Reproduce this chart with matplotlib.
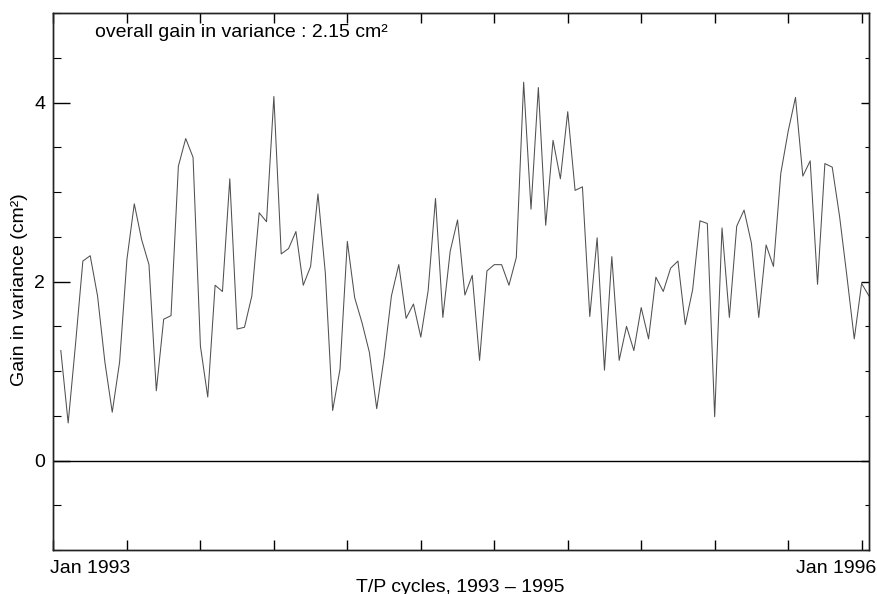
import numpy as np
import matplotlib
matplotlib.use('Agg')
from matplotlib import pyplot as plt
from matplotlib.ticker import MultipleLocator

# T/P repeat cycles covered (Jan 1993 - Jan 1996)
cycles = list(range(11, 122))

# gain in variance per cycle (cm^2)
gain = [
    1.23, 0.42, 1.30, 2.23, 2.29, 1.84, 1.10, 0.54, 1.10, 2.25,
    2.87, 2.47, 2.19, 0.78, 1.58, 1.62, 3.29, 3.60, 3.39, 1.28,
    0.71, 1.96, 1.89, 3.15, 1.47, 1.49, 1.84, 2.77, 2.67, 4.07,
    2.31, 2.37, 2.56, 1.96, 2.17, 2.98, 2.10, 0.56, 1.02, 2.45,
    1.82, 1.54, 1.21, 0.58, 1.15, 1.84, 2.19, 1.59, 1.75, 1.38,
    1.90, 2.93, 1.60, 2.34, 2.69, 1.85, 2.07, 1.12, 2.12, 2.19,
    2.19, 1.96, 2.27, 4.23, 2.81, 4.17, 2.63, 3.58, 3.15, 3.90,
    3.02, 3.06, 1.61, 2.49, 1.01, 2.28, 1.12, 1.50, 1.23, 1.71,
    1.36, 2.05, 1.89, 2.15, 2.23, 1.52, 1.91, 2.68, 2.65, 0.49,
    2.60, 1.60, 2.62, 2.80, 2.43, 1.60, 2.41, 2.17, 3.21, 3.68,
    4.06, 3.18, 3.35, 1.97, 3.32, 3.28, 2.73, 2.06, 1.36, 1.98,
    1.84,
]

date_labels = ['Jan 1993', 'Jan 1996']
date_label_cycles = [15, 116.5]
overall_gain = 2.15

plt.rcParams['font.family'] = ['Liberation Sans', 'DejaVu Sans']
plt.rcParams['font.size'] = 14


def main():
    fig = plt.figure(figsize=(8.78, 5.94), dpi=100)
    ax = fig.add_axes([0.0609, 0.0741, 0.9288, 0.9035])

    ax.plot(cycles, gain, color='#505050', lw=0.75)
    ax.axhline(0, color='black', lw=1.0)

    ax.set_xlim(10, 121)
    ax.set_ylim(-1, 5)

    # x ticks every 10 cycles, unlabeled, on top and bottom
    ax.xaxis.set_major_locator(MultipleLocator(10))
    ax.tick_params(axis='x', which='major', direction='in', length=7.2,
                   width=1.0, top=True, bottom=True, labelbottom=False)
    ax.tick_params(axis='x', which='minor', bottom=False, top=False)

    ax.yaxis.set_major_locator(MultipleLocator(2))
    ax.yaxis.set_minor_locator(MultipleLocator(0.5))
    ax.tick_params(axis='y', which='major', direction='in', length=12,
                   width=1.0, left=True, right=False, labelsize=14, pad=6)
    ax.tick_params(axis='y', which='minor', direction='in', length=5.8,
                   width=0.8, left=True, right=False)

    # shorter ticks along the right side
    axr = ax.twinx()
    axr.set_ylim(-1, 5)
    axr.yaxis.set_major_locator(MultipleLocator(2))
    axr.yaxis.set_minor_locator(MultipleLocator(0.5))
    axr.tick_params(axis='y', which='major', direction='in', length=5.5,
                    width=1.0, labelright=False)
    axr.tick_params(axis='y', which='minor', direction='in', length=3,
                    width=0.8)

    for a in (ax, axr):
        for sp in a.spines.values():
            sp.set_linewidth(1.0)
            sp.set_color('#222222')

    for lab, c in zip(date_labels, date_label_cycles):
        ax.annotate(lab, xy=(c, 0), xycoords=('data', 'axes fraction'),
                    xytext=(0, -16.3), textcoords='offset points',
                    ha='center', va='baseline', fontsize=14)

    fig.text(460.5 / 878, 2.5 / 594, 'T/P cycles, 1993 \u2013 1995',
             ha='center', va='baseline', fontsize=14)
    fig.text(20 / 878, 1 - 290 / 594, 'Gain in variance (cm\u00b2)',
             rotation=90, ha='center', va='center', fontsize=14)

    ax.text(95 / 878, 1 - 36.7 / 594,
            f'overall gain in variance : {overall_gain:.2f} cm\u00b2',
            transform=fig.transFigure, ha='left', va='baseline', fontsize=14)

    fig.savefig('out.png', dpi=100)


if __name__ == '__main__':
    main()
